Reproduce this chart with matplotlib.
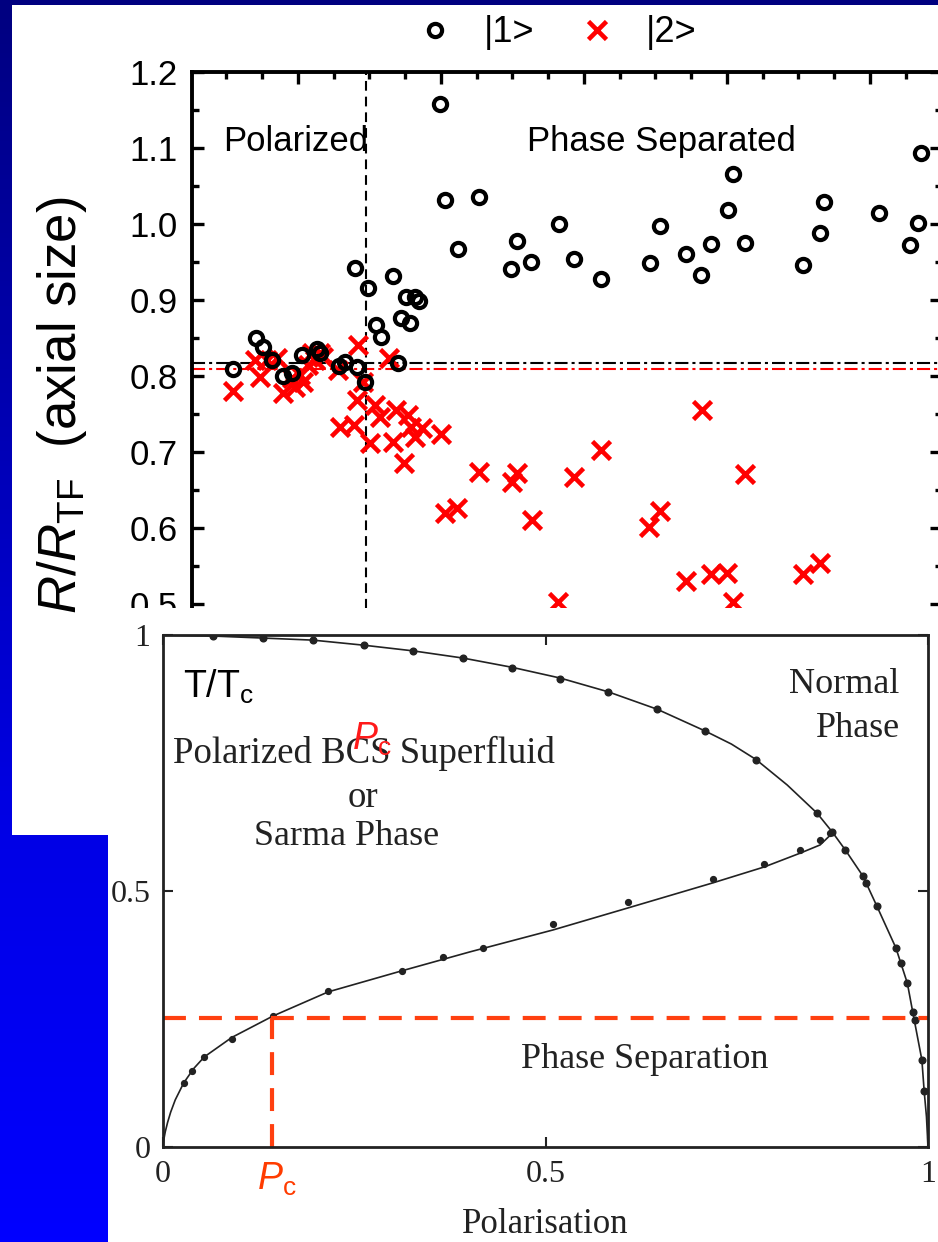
import numpy as np
import matplotlib
matplotlib.use("Agg")
from matplotlib import pyplot as plt
from matplotlib.patches import Rectangle
from matplotlib.ticker import MultipleLocator, FormatStrFormatter

plt.rcParams['font.family'] = ['Liberation Sans', 'DejaVu Sans']
plt.rcParams['mathtext.fontset'] = 'custom'
plt.rcParams['mathtext.rm'] = 'Liberation Sans'
plt.rcParams['mathtext.it'] = 'Liberation Sans:italic'
plt.rcParams['lines.scale_dashes'] = False

# ---- top panel: axial size R/R_TF of the two states vs polarisation
p1 = [-0.091, -0.059, -0.049, -0.036, -0.021, -0.008, 0.006, 0.027, 0.031, 0.057,
      0.066, 0.083, 0.094, 0.080, 0.098, 0.133, 0.151, 0.164, 0.169, 0.110,
      0.116, 0.145, 0.157, 0.140, 0.199, 0.206, 0.224, 0.253, 0.306, 0.298,
      0.326, 0.365, 0.386, 0.424, 0.492, 0.506, 0.543, 0.564, 0.578, 0.601,
      0.608, 0.625, 0.706, 0.731, 0.736, 0.813, 0.856, 0.867, 0.871]
r1 = [0.809, 0.850, 0.838, 0.821, 0.800, 0.804, 0.828, 0.836, 0.830, 0.813,
      0.818, 0.812, 0.792, 0.942, 0.916, 0.932, 0.904, 0.904, 0.899, 0.867,
      0.851, 0.876, 0.870, 0.817, 1.158, 1.032, 0.967, 1.036, 0.978, 0.941,
      0.950, 1.000, 0.954, 0.928, 0.949, 0.997, 0.961, 0.933, 0.974, 1.018,
      1.066, 0.975, 0.946, 0.988, 1.029, 1.014, 0.972, 1.001, 1.093]
p2 = [-0.091, -0.060, -0.053, -0.043, -0.029, -0.021, -0.008, -0.004, 0.003, 0.007,
      0.014, 0.020, 0.024, 0.031, 0.035, 0.056, 0.084, 0.091, 0.083, 0.059,
      0.078, 0.101, 0.108, 0.115, 0.127, 0.133, 0.138, 0.154, 0.148, 0.159,
      0.164, 0.173, 0.200, 0.206, 0.222, 0.253, 0.299, 0.306, 0.327, 0.364,
      0.386, 0.424, 0.491, 0.506, 0.543, 0.565, 0.578, 0.600, 0.608, 0.625,
      0.706, 0.731]
r2 = [0.780, 0.821, 0.799, 0.821, 0.824, 0.778, 0.797, 0.786, 0.801, 0.792,
      0.814, 0.830, 0.821, 0.830, 0.825, 0.808, 0.841, 0.792, 0.768, 0.733,
      0.736, 0.712, 0.762, 0.746, 0.824, 0.713, 0.755, 0.749, 0.686, 0.733,
      0.720, 0.732, 0.724, 0.620, 0.626, 0.674, 0.661, 0.672, 0.611, 0.503,
      0.667, 0.703, 0.601, 0.622, 0.530, 0.755, 0.539, 0.541, 0.503, 0.671,
      0.539, 0.554]
r1_mean = 0.817
r2_mean = 0.809
p_c_exp = 0.095

# ---- bottom panel: phase diagram T/Tc vs polarisation
up_dot_p = [0.065, 0.131, 0.196, 0.263, 0.327, 0.392, 0.456, 0.519, 0.582, 0.646,
            0.708, 0.775, 0.855, 0.875, 0.892, 0.915, 0.919, 0.933, 0.958, 0.965,
            0.973, 0.980, 0.983, 0.992, 0.995]
up_dot_t = [0.998, 0.994, 0.990, 0.980, 0.969, 0.955, 0.936, 0.914, 0.889, 0.855,
            0.813, 0.756, 0.652, 0.615, 0.580, 0.529, 0.516, 0.471, 0.389, 0.359,
            0.320, 0.264, 0.248, 0.170, 0.109]
up_line_p = [0.0, 0.065, 0.131, 0.196, 0.263, 0.327, 0.392, 0.456, 0.519, 0.582,
             0.646, 0.708, 0.743, 0.775, 0.816, 0.855, 0.875, 0.892, 0.915, 0.933,
             0.958, 0.973, 0.980, 0.992, 0.995, 0.998, 1.0]
up_line_t = [1.0, 0.998, 0.994, 0.990, 0.980, 0.969, 0.955, 0.937, 0.916, 0.889,
             0.855, 0.813, 0.787, 0.757, 0.707, 0.652, 0.615, 0.580, 0.529, 0.471,
             0.389, 0.320, 0.264, 0.170, 0.109, 0.059, 0.0]
lo_dot_p = [0.027, 0.038, 0.054, 0.090, 0.144, 0.216, 0.312, 0.366, 0.418, 0.510,
            0.608, 0.719, 0.786, 0.833, 0.859, 0.872]
lo_dot_t = [0.125, 0.148, 0.176, 0.211, 0.256, 0.305, 0.344, 0.371, 0.389, 0.436,
            0.479, 0.523, 0.553, 0.580, 0.600, 0.613]
lo_line_p = [0.0, 0.001, 0.003, 0.006, 0.010, 0.016, 0.027, 0.040, 0.054, 0.090,
             0.144, 0.216, 0.312, 0.401, 0.510, 0.608, 0.719, 0.786, 0.833, 0.859,
             0.875]
lo_line_t = [0.0, 0.014, 0.030, 0.048, 0.068, 0.092, 0.125, 0.153, 0.176, 0.214,
             0.256, 0.303, 0.344, 0.381, 0.424, 0.467, 0.516, 0.547, 0.574, 0.590,
             0.613]
t_c_line = 0.252
p_c_theory = 0.1425

W, H = 938, 1242
fig = plt.figure(figsize=(W / 100, H / 100), dpi=100)

# slide background: navy to blue
bg = fig.add_axes([0, 0, 1, 1], zorder=0)
g = np.linspace(0, 1, 256)
blue = np.interp(g, [0, 0.672, 1], [128, 230, 255]) / 255
grad = np.zeros((256, 1, 3))
grad[:, 0, 2] = blue
bg.imshow(grad, aspect='auto', extent=[0, 1, 0, 1], origin='upper')
bg.axis('off')

fig.add_artist(Rectangle((12 / W, 1 - 835 / H), (W - 12) / W, (835 - 5) / H,
                         transform=fig.transFigure, fc='white', ec='none', zorder=0.5))

# ---- top axes
ax1 = fig.add_axes([192 / W, 1 - 640 / H, (942 - 192) / W, (640 - 72) / H], zorder=1)
ax1.patch.set_alpha(0)
ax1.axhline(r1_mean, color='k', lw=1.5, dashes=(9.4, 2.9, 2.2, 2.9), zorder=1)
ax1.axhline(r2_mean, color='red', lw=1.5, dashes=(9.4, 2.9, 2.2, 2.9), zorder=1)
ax1.axvline(p_c_exp, color='k', lw=1.5, dashes=(7, 4.3), zorder=1)
ax1.plot(p1, r1, 'o', ls='none', ms=9.5, mew=3, mfc='none', mec='k', label='|1>', zorder=3)
ax1.plot(p2, r2, 'x', ls='none', ms=13, mew=3.3, color='red', label='|2>', zorder=2)
ax1.set_xlim(-0.148, 0.901)
ax1.set_ylim(0.4526, 1.2)
ax1.xaxis.set_major_locator(MultipleLocator(0.2))
ax1.xaxis.set_minor_locator(MultipleLocator(0.05))
ax1.yaxis.set_major_locator(MultipleLocator(0.1))
ax1.yaxis.set_minor_locator(MultipleLocator(0.05))
ax1.yaxis.set_major_formatter(FormatStrFormatter('%.1f'))
ax1.tick_params(which='both', direction='in', top=True, right=True, bottom=False,
                labelbottom=False, labelsize=25, pad=10, width=2.4)
ax1.tick_params(which='major', length=8.6)
ax1.tick_params(which='minor', length=5)
for s in ax1.spines.values():
    s.set_linewidth(2.8)
ax1.spines['bottom'].set_visible(False)
ax1.text(-0.105, 1.109, 'Polarized', fontsize=25, va='center')
ax1.text(0.320, 1.109, 'Phase Separated', fontsize=25, va='center')
ax1.legend(loc='center', bbox_to_anchor=(552 / W, 1 - 33 / H), bbox_transform=fig.transFigure,
           ncol=2, frameon=False, fontsize=26, handlelength=1.5, handletextpad=0.6,
           columnspacing=1.0, borderpad=0)
fig.text(62 / W, 1 - 405 / H, r'$R$/$R_{\mathrm{TF}}$  (axial size)', rotation=90,
         fontsize=38, ha='center', va='center')

# white panel of the phase diagram, laid over the lower part of the top plot
fig.add_artist(Rectangle((108 / W, 0), (W - 108) / W, 1 - 608 / H,
                         transform=fig.transFigure, fc='white', ec='none', zorder=2))

# ---- bottom axes
dark = '#222222'
serif = 'Liberation Serif'
ax2 = fig.add_axes([163 / W, 1 - 1147 / H, 765 / W, 512 / H], zorder=3)
ax2.set_facecolor('white')
ax2.plot(up_line_p, up_line_t, color=dark, lw=1.2)
ax2.plot(lo_line_p, lo_line_t, color=dark, lw=1.2)
ax2.plot(up_dot_p, up_dot_t, 'o', ls='none', ms=4.8, color=dark)
ax2.plot(lo_dot_p, lo_dot_t, 'o', ls='none', ms=4.2, color=dark)
ax2.axhline(t_c_line, color='#ff4010', lw=3, dashes=(16.5, 9.4))
ax2.axvline(p_c_theory, ymin=0, ymax=t_c_line, color='#ff4010', lw=3, dashes=(16.5, 9.4))
ax2.set_xlim(0, 1)
ax2.set_ylim(0, 1)
ax2.set_xticks([0, 0.5, 1], ['0', '0.5', '1'])
ax2.set_yticks([0, 0.5, 1], ['0', '0.5', '1'])
ax2.tick_params(direction='in', top=True, right=True, length=7, width=1.5, color=dark,
                labelsize=23, pad=9, labelcolor=dark, labelfontfamily=serif)
for s in ax2.spines.values():
    s.set_linewidth(2)
    s.set_color(dark)
ax2.set_xlabel('Polarisation', fontsize=25, family=serif, color=dark, labelpad=14)

ax2.text(0.026, 0.877, r'T/T$_{\mathrm{c}}$', fontsize=27, va='baseline')
ax2.text(0.263, 0.75, 'Polarized BCS Superfluid', fontsize=26.5, family=serif,
         color=dark, ha='center', va='baseline')
ax2.text(0.261, 0.664, 'or', fontsize=26.5, family=serif, color=dark, ha='center', va='baseline')
ax2.text(0.24, 0.59, 'Sarma Phase', fontsize=26, family=serif, color=dark,
         ha='center', va='baseline')
ax2.text(0.963, 0.887, 'Normal', fontsize=26, family=serif, color=dark, ha='right', va='baseline')
ax2.text(0.963, 0.801, 'Phase', fontsize=26, family=serif, color=dark, ha='right', va='baseline')
ax2.text(0.63, 0.154, 'Phase Separation', fontsize=26, family=serif, color=dark,
         ha='center', va='baseline')
ax2.text(0.247, 0.775, r'$P_{\mathrm{c}}$', fontsize=27, color='#ff1a1a', va='baseline')
ax2.text(0.123, -0.084, r'$P_{\mathrm{c}}$', fontsize=27, color='#ff3c00', va='baseline',
         clip_on=False)

fig.savefig('out.png', dpi=100)
